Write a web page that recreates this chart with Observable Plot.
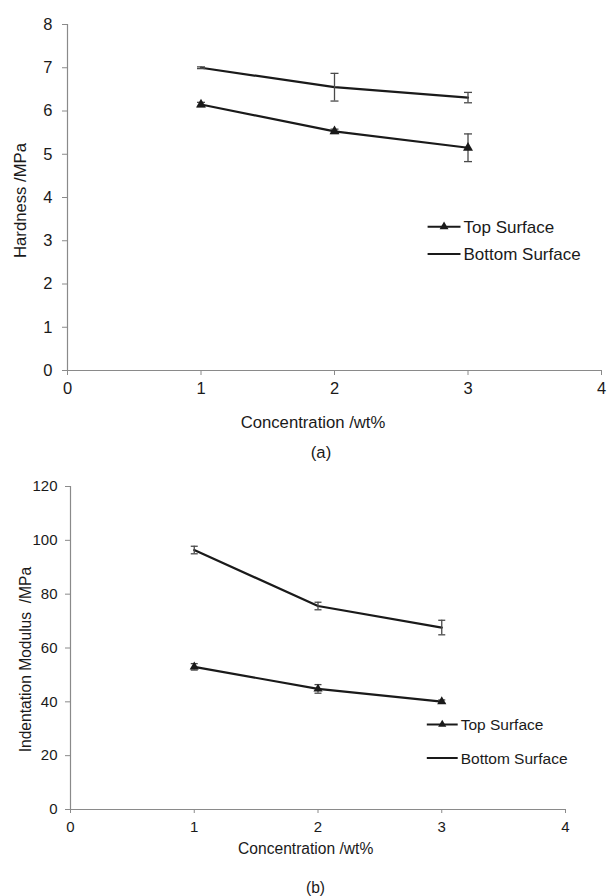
<!DOCTYPE html>
<html>
<head>
<meta charset="utf-8">
<script src="https://cdn.jsdelivr.net/npm/d3@7"></script>
<script src="https://cdn.jsdelivr.net/npm/@observablehq/plot@0.6"></script>
<style>
  html, body { margin: 0; padding: 0; background: #fff; }
  #wrap { width: 607px; height: 896px; position: relative; }
  #wrap svg { display: block; }
</style>
</head>
<body>
<div id="wrap"></div>
<script>
// Concentration levels (wt%)
const conc = [1, 2, 3];
const xTicks = [0, 1, 2, 3, 4];

// (a) Hardness, MPa — mean and error (±)
const hardTop = [6.15, 5.53, 5.15];
const hardTopErr = [0.05, 0.05, 0.32];
const hardBottom = [7.00, 6.55, 6.31];
const hardBottomErr = [0.02, 0.32, 0.12];
const hardTicks = [0, 1, 2, 3, 4, 5, 6, 7, 8];

// (b) Indentation modulus, MPa — mean and error (±)
const modTop = [53.0, 44.8, 40.1];
const modTopErr = [1.2, 1.6, 0.6];
const modBottom = [96.4, 75.6, 67.6];
const modBottomErr = [1.4, 1.4, 2.7];
const modTicks = [0, 20, 40, 60, 80, 100, 120];

const seriesNames = ["Top Surface", "Bottom Surface"];

const FONT = '"Liberation Sans", Arial, Helvetica, sans-serif';
const INK = "#1a1a1a";
const AXIS = "#8a8a8a";
const ERR = "#4a4a4a";

function rows(values, errs, series) {
  return conc.map((c, i) => ({conc: c, value: values[i], lo: values[i] - errs[i], hi: values[i] + errs[i], series}));
}

// short horizontal cap for the error bars
function capSymbol(half) {
  return {draw(ctx) { ctx.moveTo(-half, 0); ctx.lineTo(half, 0); }};
}

function chart(opt) {
  const top = rows(opt.top, opt.topErr, seriesNames[0]);
  const bottom = rows(opt.bottom, opt.bottomErr, seriesNames[1]);
  const all = top.concat(bottom);
  const cap = capSymbol(opt.capHalf);

  const svg = Plot.plot({
    width: 607,
    height: opt.height,
    marginLeft: opt.ml, marginRight: opt.mr, marginTop: opt.mt, marginBottom: opt.mb,
    x: {domain: [0, 4]},
    y: {domain: opt.yDomain},
    style: {fontFamily: FONT, fontSize: opt.tickFont + "px", color: INK, background: "white", overflow: "visible"},
    marks: [
      Plot.ruleX([0], {stroke: AXIS, strokeWidth: 1.2}),
      Plot.ruleY([0], {stroke: AXIS, strokeWidth: 1.2}),
      Plot.axisX({ticks: xTicks, tickSize: opt.xTickSize, tickPadding: opt.xPad, stroke: AXIS, fill: INK, label: null, tickFormat: d => d}),
      Plot.axisY({ticks: opt.yTicks, tickSize: 5, tickPadding: opt.yPad, stroke: AXIS, fill: INK, label: null, tickFormat: d => d}),
      Plot.line(top, {x: "conc", y: "value", stroke: INK, strokeWidth: 2.2}),
      Plot.line(bottom, {x: "conc", y: "value", stroke: INK, strokeWidth: 2.2}),
      Plot.ruleX(all, {x: "conc", y1: "lo", y2: "hi", stroke: ERR, strokeWidth: 1.3}),
      Plot.dot(all, {x: "conc", y: "lo", symbol: cap, stroke: ERR, strokeWidth: 1.3, fill: "none"}),
      Plot.dot(all, {x: "conc", y: "hi", symbol: cap, stroke: ERR, strokeWidth: 1.3, fill: "none"}),
      Plot.dot(top, {x: "conc", y: "value", symbol: "triangle", r: opt.triR, fill: INK, stroke: "none"})
    ]
  });

  const s = d3.select(svg);

  // legend
  const lg = s.append("g").attr("font-family", FONT).attr("font-size", opt.legendFont)
    .attr("fill", INK).attr("text-anchor", "start");
  seriesNames.forEach((name, i) => {
    const y = opt.legendY[i];
    lg.append("line").attr("x1", opt.legendX[0]).attr("x2", opt.legendX[1]).attr("y1", y).attr("y2", y)
      .attr("stroke", INK).attr("stroke-width", 2);
    if (i === 0) {
      const mx = (opt.legendX[0] + opt.legendX[1]) / 2;
      lg.append("path").attr("transform", `translate(${mx},${y})`)
        .attr("d", d3.symbol(d3.symbolTriangle, Math.PI * opt.triR * opt.triR * 0.8)()).attr("fill", INK);
    }
    lg.append("text").attr("x", opt.legendX[1] + 3).attr("y", y).attr("dy", "0.36em").text(name);
  });

  // axis titles and panel caption
  const tg = s.append("g").attr("font-family", FONT).attr("fill", INK).attr("text-anchor", "middle");
  tg.append("text").attr("x", opt.xTitle[0]).attr("y", opt.xTitle[1]).attr("dy", "0.36em")
    .attr("font-size", opt.titleFont).text("Concentration /wt%");
  tg.append("text").attr("transform", `translate(${opt.yTitle[0]},${opt.yTitle[1]}) rotate(-90)`).attr("dy", "0.36em")
    .attr("font-size", opt.titleFont).attr("xml:space", "preserve").text(opt.yLabel);
  tg.append("text").attr("x", opt.caption[0]).attr("y", opt.caption[1]).attr("dy", "0.36em")
    .attr("font-size", opt.titleFont).text(opt.captionText);
  return svg;
}

const wrap = document.getElementById("wrap");

wrap.appendChild(chart({
  height: 465, ml: 67, mr: 6, mt: 24, mb: 95,
  yDomain: [0, 8], yTicks: hardTicks,
  top: hardTop, topErr: hardTopErr, bottom: hardBottom, bottomErr: hardBottomErr,
  tickFont: 16.5, xTickSize: 5, xPad: 7, yPad: 10,
  capHalf: 4, triR: 3.7,
  legendX: [427.6, 460.5], legendY: [226.7, 254], legendFont: 17,
  xTitle: [313, 421.7], yTitle: [19.5, 200.5], caption: [321, 452],
  titleFont: 16.7, yLabel: "Hardness /MPa", captionText: "(a)"
}));

wrap.appendChild(chart({
  height: 431, ml: 70, mr: 42, mt: 21, mb: 87,
  yDomain: [0, 120], yTicks: modTicks,
  top: modTop, topErr: modTopErr, bottom: modBottom, bottomErr: modBottomErr,
  tickFont: 15, xTickSize: 4, xPad: 8, yPad: 8,
  capHalf: 3.5, triR: 3.4,
  legendX: [426.8, 457.7], legendY: [259.5, 293], legendFont: 15.5,
  xTitle: [305.7, 383.4], yTitle: [25.5, 194.6], caption: [315.5, 422.5],
  titleFont: 15.6, yLabel: "Indentation Modulus  /MPa", captionText: "(b)"
}));
</script>
</body>
</html>
